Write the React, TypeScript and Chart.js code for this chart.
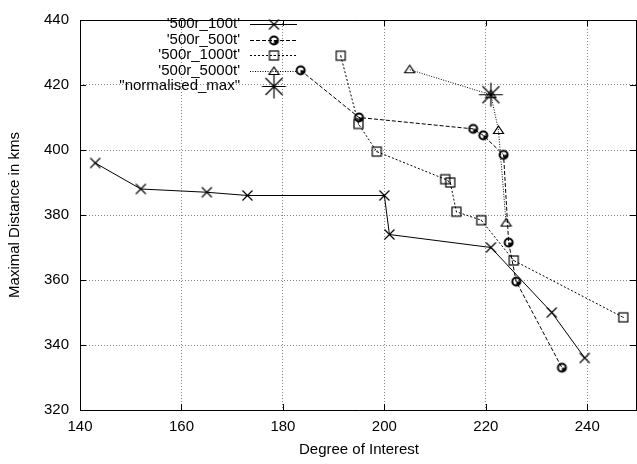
import React, { useEffect, useRef } from 'react';
import { Chart, registerables } from 'chart.js';

Chart.register(...registerables);

// ---- data ----
const seriesLabels = ["'500r_100t'", "'500r_500t'", "'500r_1000t'", "'500r_5000t'", '"normalised_max"'];

const x100t = [143, 152, 165, 173, 200, 201, 221, 233, 239.5];
const y100t = [396, 388, 387, 386, 386, 374, 370, 350, 336];

const x500t = [183.5, 195, 217.5, 219.5, 223.5, 224.5, 226, 235];
const y500t = [424.5, 410, 406.5, 404.5, 398.5, 371.5, 359.5, 333];

const x1000t = [191.4, 194.9, 198.5, 212, 213, 214.2, 219.1, 225.5, 247.1];
const y1000t = [429, 408, 399.5, 391, 390, 381, 378.4, 366, 348.5];

const x5000t = [205, 221, 222.5, 224];
const y5000t = [424.7, 417, 406, 377.5];

const xMax = [221];
const yMax = [417];

const xTicks = [140, 160, 180, 200, 220, 240];
const yTicks = [320, 340, 360, 380, 400, 420, 440];

const xTitle = 'Degree of Interest';
const yTitle = 'Maximal Distance in kms';

const FONT = '"Liberation Sans", Arial, Helvetica, sans-serif';

function toPts(xs: number[], ys: number[]) {
  return xs.map((x, i) => ({ x, y: ys[i] }));
}

function makeMarker(kind: string): HTMLCanvasElement {
  const size = kind === 'star' ? 27 : 13;
  const c = document.createElement('canvas');
  c.width = size;
  c.height = size;
  const ctx = c.getContext('2d')!;
  const m = size / 2;
  ctx.strokeStyle = '#000';
  ctx.fillStyle = '#000';
  ctx.lineWidth = 1.2;
  if (kind === 'cross') {
    ctx.beginPath();
    ctx.moveTo(m - 5, m - 5);
    ctx.lineTo(m + 5, m + 5);
    ctx.moveTo(m + 5, m - 5);
    ctx.lineTo(m - 5, m + 5);
    ctx.stroke();
  } else if (kind === 'circle') {
    ctx.lineWidth = 2;
    ctx.beginPath();
    ctx.arc(m, m, 4, 0, Math.PI * 2);
    ctx.stroke();
    ctx.beginPath();
    ctx.moveTo(m, m);
    ctx.arc(m, m, 4, 0, Math.PI / 2);
    ctx.closePath();
    ctx.fill();
  } else if (kind === 'square') {
    ctx.strokeRect(m - 4.5, m - 4.5, 9, 9);
    ctx.fillRect(m - 0.5, m - 0.5, 1, 1);
  } else if (kind === 'triangle') {
    ctx.beginPath();
    ctx.moveTo(m, m - 4.5);
    ctx.lineTo(m + 5, m + 3);
    ctx.lineTo(m - 5, m + 3);
    ctx.closePath();
    ctx.stroke();
  } else if (kind === 'star') {
    const r = 12;
    ctx.beginPath();
    for (let k = 0; k < 4; k++) {
      const a = (k * Math.PI) / 4;
      ctx.moveTo(m - r * Math.cos(a), m - r * Math.sin(a));
      ctx.lineTo(m + r * Math.cos(a), m + r * Math.sin(a));
    }
    ctx.stroke();
  }
  return c;
}

export default function App() {
  const ref = useRef<HTMLCanvasElement | null>(null);

  useEffect(() => {
    if (!ref.current) return;
    const markers = ['cross', 'circle', 'square', 'triangle', 'star'].map(makeMarker);
    const dashes: number[][] = [[], [4, 2], [2, 2], [1, 1.5], []];

    const framePlugin = {
      id: 'frame',
      afterDraw(chart: any) {
        const ctx = chart.ctx as CanvasRenderingContext2D;
        const a = chart.chartArea;
        const xs = chart.scales.x;
        const ys = chart.scales.y;
        const rightEdge = 636;
        ctx.save();
        // border
        ctx.strokeStyle = '#000';
        ctx.lineWidth = 1;
        ctx.setLineDash([]);
        ctx.beginPath();
        ctx.moveTo(a.left + 0.5, a.top + 0.5);
        ctx.lineTo(a.right, a.top + 0.5);
        ctx.moveTo(a.left + 0.5, a.bottom + 0.5);
        ctx.lineTo(a.right, a.bottom + 0.5);
        ctx.moveTo(a.left + 0.5, a.top);
        ctx.lineTo(a.left + 0.5, a.bottom + 1);
        ctx.moveTo(rightEdge + 0.5, a.top);
        ctx.lineTo(rightEdge + 0.5, a.bottom + 1);
        ctx.stroke();
        // inward ticks
        ctx.beginPath();
        xTicks.forEach((v) => {
          const px = Math.round(xs.getPixelForValue(v)) + 0.5;
          ctx.moveTo(px, a.bottom);
          ctx.lineTo(px, a.bottom - 6);
          ctx.moveTo(px, a.top);
          ctx.lineTo(px, a.top + 6);
        });
        yTicks.forEach((v) => {
          const py = Math.round(ys.getPixelForValue(v)) + 0.5;
          ctx.moveTo(a.left, py);
          ctx.lineTo(a.left + 6, py);
          ctx.moveTo(rightEdge, py);
          ctx.lineTo(rightEdge - 6, py);
        });
        ctx.stroke();

        // titles
        ctx.fillStyle = '#000';
        ctx.font = `15px ${FONT}`;
        ctx.textAlign = 'center';
        ctx.textBaseline = 'middle';
        ctx.fillText(xTitle, (a.left + a.right) / 2, 450);
        ctx.save();
        ctx.translate(15, (a.top + a.bottom) / 2);
        ctx.rotate(-Math.PI / 2);
        ctx.fillText(yTitle, 0, 0);
        ctx.restore();

        // legend
        seriesLabels.forEach((lab, i) => {
          const ry = 24 + i * 15.5;
          ctx.textAlign = 'right';
          ctx.fillStyle = '#000';
          ctx.fillText(lab, 240, ry);
          if (i < 4) {
            ctx.beginPath();
            ctx.setLineDash(dashes[i]);
            ctx.lineWidth = 1;
            ctx.moveTo(250, Math.round(ry) + 0.5);
            ctx.lineTo(297, Math.round(ry) + 0.5);
            ctx.stroke();
            ctx.setLineDash([]);
          }
          const mk = markers[i];
          ctx.drawImage(mk, 274 - mk.width / 2, Math.round(ry) + 0.5 - mk.height / 2);
        });
        ctx.restore();
      },
    };

    const allX = [x100t, x500t, x1000t, x5000t, xMax];
    const allY = [y100t, y500t, y1000t, y5000t, yMax];

    const chart = new Chart(ref.current, {
      type: 'scatter',
      data: {
        datasets: seriesLabels.map((lab, i) => ({
          label: lab,
          data: toPts(allX[i], allY[i]),
          showLine: i < 4,
          borderColor: '#000',
          backgroundColor: '#000',
          borderWidth: 1,
          borderDash: dashes[i],
          pointStyle: markers[i] as any,
          pointRadius: 6,
          tension: 0,
        })),
      },
      options: {
        responsive: false,
        animation: false,
        devicePixelRatio: 1,
        layout: { padding: { left: 0, right: 5, top: 10, bottom: 0 } },
        plugins: { legend: { display: false }, tooltip: { enabled: false } },
        scales: {
          x: {
            type: 'linear',
            min: 140,
            max: 250,
            afterFit: (s: any) => {
              s.height = 54;
            },
            ticks: {
              stepSize: 20,
              includeBounds: false,
              color: '#000',
              font: { family: FONT, size: 15 },
              padding: 8,
              maxRotation: 0,
            },
            grid: { color: '#888', lineWidth: 1, drawTicks: false },
            border: { display: false, dash: [1, 2] },
          },
          y: {
            type: 'linear',
            min: 320,
            max: 440,
            afterFit: (s: any) => {
              s.width = 80;
            },
            ticks: {
              stepSize: 20,
              includeBounds: false,
              color: '#000',
              font: { family: FONT, size: 15 },
              padding: 11,
            },
            grid: { color: '#888', lineWidth: 1, drawTicks: false },
            border: { display: false, dash: [1, 2] },
          },
        },
      } as any,
      plugins: [framePlugin],
    });

    return () => chart.destroy();
  }, []);

  return (
    <div
      style={{
        position: 'fixed',
        left: 0,
        top: 0,
        width: 637,
        height: 464,
        overflow: 'hidden',
        background: '#fff',
      }}
    >
      <canvas ref={ref} width={645} height={464} style={{ display: 'block' }} />
    </div>
  );
}
